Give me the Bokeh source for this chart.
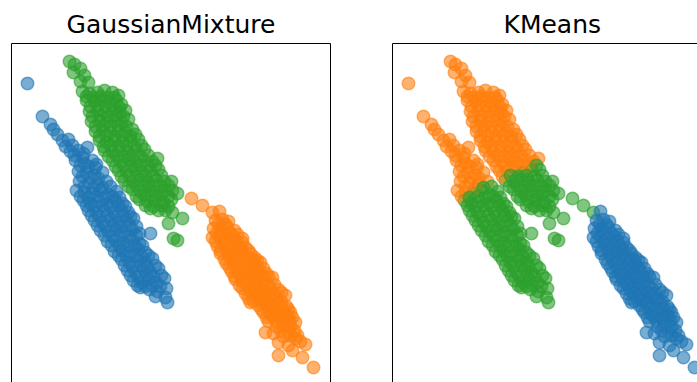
from bokeh.plotting import figure
from bokeh.layouts import row
from bokeh.models import Range1d, LinearAxis, FixedTicker, ColumnDataSource
from bokeh.embed import file_html
from bokeh.resources import INLINE

titles = ["GaussianMixture", "KMeans"]
palette = ["#1f77b4", "#ff7f0e", "#2ca02c"]  # label 0, 1, 2

# ---- GaussianMixture cluster 0 (blue) ----
c0_x = [27, 42, 50, 53, 57, 62, 68, 65, 72, 70, 78, 87, 82, 75, 84, 92, 95,
        78, 86, 94, 102, 79, 88, 97, 106, 110, 76, 84, 92, 100, 108, 116,
        83, 90, 98, 107, 115, 122,
        88, 96, 104, 113, 121, 128,
        94, 102, 110, 118, 126, 133,
        100, 108, 116, 124, 132, 139, 150,
        107, 115, 123, 131, 139,
        114, 122, 130, 138, 145,
        121, 129, 137, 145, 152,
        127, 135, 143, 150, 158,
        133, 141, 148, 156, 164,
        140, 149, 157, 166,
        155, 165, 167,
        74, 83, 80, 88, 96, 82, 90, 98, 84, 93, 102,
        80, 88, 96, 104, 112, 119,
        86, 94, 102, 110, 118, 125,
        91, 99, 107, 115, 123, 130,
        97, 105, 113, 121, 129, 136,
        104, 112, 120, 128, 136,
        111, 119, 127, 135, 142,
        118, 126, 134, 141, 148,
        124, 132, 140, 147, 155,
        130, 138, 146, 153, 161,
        137, 145, 152, 160]
c0_y = [83, 116, 124, 129, 134, 140, 139, 146, 145, 151, 150, 147, 157, 160, 163, 160, 167,
        171, 172, 175, 172, 181, 183, 184, 181, 186, 190, 192, 193, 190, 194, 191,
        200, 203, 201, 203, 200, 203,
        210, 212, 210, 212, 210, 212,
        220, 222, 219, 222, 220, 218,
        230, 231, 229, 232, 229, 233, 233,
        241, 240, 242, 239, 243,
        251, 250, 252, 249, 252,
        259, 262, 260, 262, 258,
        270, 272, 269, 272, 268,
        280, 282, 279, 282, 278,
        287, 289, 291, 288,
        296, 297, 302,
        155, 153, 165, 166, 164, 176, 177, 178, 186, 188, 187,
        196, 197, 196, 197, 196, 197,
        205, 206, 205, 206, 205, 206,
        215, 216, 215, 216, 215, 216,
        225, 226, 225, 226, 225, 226,
        235, 236, 235, 236, 235,
        245, 246, 245, 246, 245,
        255, 256, 255, 256, 255,
        265, 266, 265, 266, 265,
        275, 276, 275, 276, 275,
        285, 286, 285, 286]
c0_km = [1, 1, 1, 1, 1, 1, 1, 1, 1, 1, 1, 1, 1, 1, 1, 1, 1,
         1, 1, 1, 1, 1, 1, 1, 1, 2, 1, 1, 2, 2, 2, 2,
         2, 2, 2, 2, 2, 2,
         2, 2, 2, 2, 2, 2,
         2, 2, 2, 2, 2, 2,
         2, 2, 2, 2, 2, 2, 2,
         2, 2, 2, 2, 2,
         2, 2, 2, 2, 2,
         2, 2, 2, 2, 2,
         2, 2, 2, 2, 2,
         2, 2, 2, 2, 2,
         2, 2, 2, 2,
         2, 2, 2,
         1, 1, 1, 1, 1, 1, 1, 1, 1, 1, 2,
         1, 2, 2, 2, 2, 2,
         2, 2, 2, 2, 2, 2,
         2, 2, 2, 2, 2, 2,
         2, 2, 2, 2, 2, 2,
         2, 2, 2, 2, 2,
         2, 2, 2, 2, 2,
         2, 2, 2, 2, 2,
         2, 2, 2, 2, 2,
         2, 2, 2, 2, 2,
         2, 2, 2, 2]

# ---- GaussianMixture cluster 1 (orange) ----
c1_x = [191, 202, 212, 219,
        215, 222, 228,
        213, 220, 227, 234,
        212, 219, 226, 233, 242,
        217, 224, 231, 238, 245,
        220, 228, 235, 242, 250, 254,
        226, 233, 240, 247, 254, 260,
        231, 238, 245, 252, 259, 266,
        235, 242, 249, 256, 263, 272,
        242, 249, 256, 263, 270, 278,
        248, 255, 262, 269, 276, 285,
        250, 258, 265, 272, 279, 286,
        263, 270, 277, 284, 290,
        268, 275, 282, 289, 295,
        265, 273, 280, 287, 294,
        278, 288, 295, 300, 305,
        278, 292, 302,
        313,
        218, 225,
        216, 223, 230, 237,
        215, 222, 229, 236, 242,
        220, 227, 234, 241, 248,
        224, 231, 238, 245, 252, 257,
        229, 236, 243, 250, 257, 263,
        234, 241, 248, 255, 262, 268,
        239, 246, 253, 260, 267, 274,
        245, 252, 259, 266, 273, 281,
        253, 260, 267, 274, 281,
        261, 268, 275, 282, 288,
        266, 273, 280, 287, 292,
        276, 283, 290,
        283, 290, 297]
c1_y = [198, 205, 212, 211,
        220, 219, 221,
        228, 229, 227, 230,
        237, 236, 238, 236, 238,
        246, 244, 247, 245, 247,
        253, 255, 253, 255, 253, 257,
        263, 262, 264, 262, 264, 262,
        271, 273, 271, 273, 271, 273,
        279, 281, 279, 282, 280, 277,
        288, 290, 288, 290, 288, 289,
        298, 296, 298, 296, 298, 295,
        302, 305, 303, 305, 303, 306,
        312, 314, 312, 314, 312,
        321, 320, 322, 320, 322,
        332, 333, 330, 332, 330,
        342, 345, 338, 341, 344,
        355, 350, 357,
        367,
        224, 224,
        233, 232, 233, 234,
        241, 241, 242, 241, 242,
        250, 250, 250, 250, 250,
        259, 258, 259, 258, 259, 260,
        267, 268, 267, 268, 267, 268,
        276, 276, 276, 277, 276, 276,
        285, 284, 285, 284, 285, 284,
        293, 292, 293, 292, 293, 292,
        301, 300, 301, 300, 301,
        309, 308, 309, 308, 309,
        317, 316, 317, 316, 317,
        326, 325, 326,
        336, 335, 335]
# first three points of this cluster fall in the KMeans green group, the rest in KMeans blue
c1_km = [2, 2, 2] + [0] * (len(c1_x) - 3)

# ---- GaussianMixture cluster 2 (green) ----
c2_x = [69, 74, 73, 80, 84, 80, 88,
        82, 89, 97, 104, 112, 118,
        86, 94, 101, 109, 116, 121,
        89, 97, 104, 112, 119, 125,
        91, 99, 106, 114, 121, 128,
        95, 102, 110, 118, 125, 132,
        99, 106, 114, 122, 130, 138,
        104, 112, 120, 128, 136, 144,
        112, 120, 128, 136, 144, 152, 157,
        118, 126, 134, 142, 150, 158,
        124, 132, 140, 148, 156, 164, 171,
        132, 140, 148, 156, 164, 172, 177,
        139, 147, 155, 163, 171,
        150, 158, 165, 172,
        168, 182, 173, 177,
        86, 93, 100, 107, 114,
        90, 98, 105, 112, 119,
        92, 100, 108, 116, 123,
        95, 103, 110, 118, 126,
        99, 106, 114, 122, 130, 135,
        103, 110, 118, 126, 134, 141,
        108, 116, 124, 132, 140, 148,
        115, 123, 131, 139, 147, 155,
        121, 129, 137, 145, 153, 161,
        128, 136, 144, 152, 160, 168,
        136, 144, 152, 160, 168,
        145, 153, 161, 168]
c2_y = [61, 64, 72, 68, 75, 81, 82,
        91, 93, 92, 90, 92, 95,
        100, 101, 99, 102, 100, 104,
        111, 110, 112, 110, 112, 110,
        121, 120, 122, 120, 122, 119,
        131, 129, 132, 130, 132, 129,
        140, 142, 139, 141, 140, 139,
        150, 151, 149, 152, 150, 149,
        160, 161, 159, 162, 160, 161, 158,
        170, 171, 169, 172, 170, 169,
        180, 181, 179, 182, 180, 181, 181,
        189, 191, 189, 192, 190, 190, 193,
        199, 201, 200, 202, 199,
        208, 210, 210, 212,
        223, 218, 238, 240,
        96, 97, 96, 97, 97,
        106, 105, 106, 105, 107,
        116, 115, 116, 115, 116,
        126, 125, 126, 125, 126,
        136, 135, 136, 135, 136, 134,
        146, 145, 146, 145, 146, 145,
        156, 155, 156, 155, 156, 155,
        166, 165, 166, 165, 166, 165,
        176, 175, 176, 175, 176, 175,
        186, 185, 186, 185, 186, 185,
        196, 195, 196, 195, 196,
        205, 206, 205, 206]
c2_km = [1, 1, 1, 1, 1, 1, 1,
         1, 1, 1, 1, 1, 1,
         1, 1, 1, 1, 1, 1,
         1, 1, 1, 1, 1, 1,
         1, 1, 1, 1, 1, 1,
         1, 1, 1, 1, 1, 1,
         1, 1, 1, 1, 1, 1,
         1, 1, 1, 1, 1, 1,
         1, 1, 1, 1, 1, 1, 1,
         1, 1, 1, 2, 2, 2,
         2, 2, 2, 2, 2, 2, 2,
         2, 2, 2, 2, 2, 2, 2,
         2, 2, 2, 2, 2,
         2, 2, 2, 2,
         2, 2, 2, 2,
         1, 1, 1, 1, 1,
         1, 1, 1, 1, 1,
         1, 1, 1, 1, 1,
         1, 1, 1, 1, 1,
         1, 1, 1, 1, 1, 1,
         1, 1, 1, 1, 1, 1,
         1, 1, 1, 1, 1, 1,
         1, 1, 1, 1, 1, 2,
         1, 2, 2, 2, 2, 2,
         2, 2, 2, 2, 2, 2,
         2, 2, 2, 2, 2,
         2, 2, 2, 2]

xs = c0_x + c1_x + c2_x
ys = c0_y + c1_y + c2_y
gm_lab = [0] * len(c0_x) + [1] * len(c1_x) + [2] * len(c2_x)
km_lab = c0_km + c1_km + c2_km


def frame_axis():
    return LinearAxis(ticker=FixedTicker(ticks=[]), axis_line_color="black",
                      axis_line_width=1, major_tick_line_color=None,
                      minor_tick_line_color=None, major_tick_out=0, major_tick_in=0,
                      minor_tick_out=0, minor_tick_in=0,
                      major_label_text_font_size="0px", major_label_standoff=0)


def make(title, labels, width, x_end, left, right, with_right_edge):
    p = figure(width=width, height=382, x_range=Range1d(11, x_end),
               y_range=Range1d(382, 43), output_backend="svg",
               toolbar_location=None, title=title,
               x_axis_location=None, y_axis_location=None,
               min_border_left=left, min_border_right=right,
               min_border_top=43, min_border_bottom=0)
    p.outline_line_color = None
    p.xgrid.grid_line_color = None
    p.ygrid.grid_line_color = None
    p.add_layout(frame_axis(), "left")
    p.add_layout(frame_axis(), "above")
    if with_right_edge:
        p.add_layout(frame_axis(), "right")
    cols = [palette[k] for k in labels]
    src = ColumnDataSource(dict(x=xs, y=ys, c=cols))
    p.scatter("x", "y", source=src, size=12.5, fill_color="c", line_color="c",
              fill_alpha=0.6, line_alpha=0.6, line_width=1.5)
    p.title.text_font = "DejaVu Sans"
    p.title.text_font_size = "25px"
    p.title.text_font_style = "normal"
    p.title.text_color = "black"
    return p


p1 = make(titles[0], gm_lab, 361, 330, 11, 31, True)
p1.title.align = "center"
p2 = make(titles[1], km_lab, 336, 316, 31, 0, False)
p2.title.align = "left"
p2.title.offset = 111

layout = row(p1, p2)
open("out.html", "w").write(file_html(layout, INLINE))
